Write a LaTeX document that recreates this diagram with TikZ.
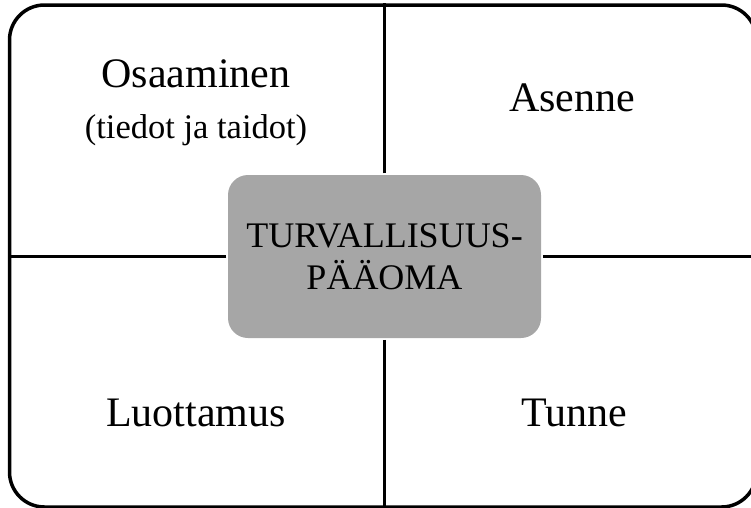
\documentclass[tikz,border=0pt]{standalone}
\usepackage{fontspec}
\setmainfont{Liberation Serif}
\usetikzlibrary{positioning}
\definecolor{coregray}{HTML}{A6A6A6}

\begin{document}
\begin{tikzpicture}[x=1pt,y=-1pt,
                every path/.style={line width=3.5pt},
                big/.style={font=\fontsize{42}{46}\selectfont},
                small/.style={font=\fontsize{34.5}{38}\selectfont},
                core text/.style={font=\fontsize{36}{42}\selectfont}]
  \useasboundingbox (0,0) rectangle (751,507);
  \node[draw,rounded corners=35pt,minimum width=747pt,minimum height=502pt,inner sep=0pt]
                   (frame) at (383,256) {};
  \node[fill=coregray,rounded corners=20pt,minimum width=313pt,minimum height=163pt,
        inner sep=0pt,align=center,core text] (core) at (384.5,256.5)
                   {TURVALLISUUS-\\PÄÄOMA};
  \node[big,anchor=base]   (osaaminen) at (196,87)  {Osaaminen};
  \node[small,anchor=base] (tiedot)    at (196,138) {(tiedot ja taidot)};
  \node[big,anchor=base]   (asenne)    at (572,111) {Asenne};
  \node[big,anchor=base]   (luottamus) at (196,426) {Luottamus};
  \node[big,anchor=base]   (tunne)     at (574,426) {Tunne};
  \draw (core.north) -- (core.north |- frame.north);
  \draw (core.south) -- (core.south |- frame.south);
  \draw (core.west) -- (core.west -| frame.west);
  \draw (core.east) -- (core.east -| frame.east);
\end{tikzpicture}
\end{document}
